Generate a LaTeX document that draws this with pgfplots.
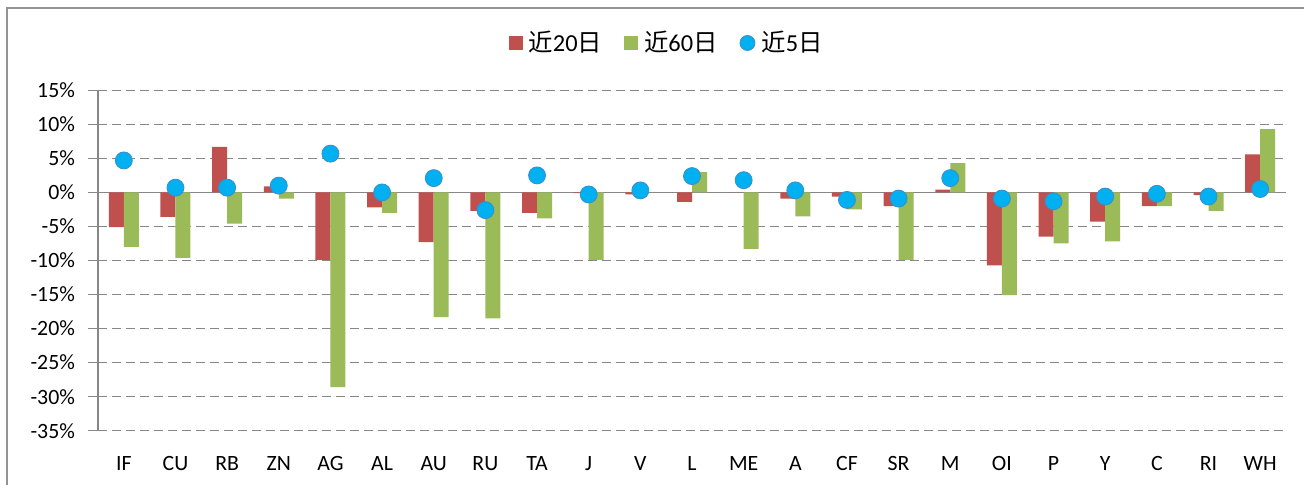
\documentclass[border=0pt]{standalone}
\usepackage{fontspec}
\setmainfont{Carlito}
\newfontfamily\cjk{Noto Sans CJK SC}
\usepackage{pgfplots}
\usepackage{pgfplotstable}
\pgfplotsset{compat=1.18}
\definecolor{r20}{HTML}{C0504D}
\definecolor{g60}{HTML}{9BBB59}
\definecolor{b5}{HTML}{00B0F0}
\definecolor{b5e}{HTML}{3C8DCB}
\definecolor{gridg}{HTML}{878787}

% x = category index, values in %
\pgfplotstableread{
x  r20   g60    d5
0  -5.1  -8.0   4.7
1  -3.6  -9.6   0.7
2   6.7  -4.6   0.7
3   0.9  -0.9   1.0
4  -9.9  -28.6  5.7
5  -2.2  -3.0   0.0
6  -7.3  -18.3  2.1
7  -2.7  -18.5 -2.6
8  -3.0  -3.8   2.5
9  -0.1  -9.9  -0.3
10 -0.3   0.0   0.3
11 -1.4   3.0   2.4
12  0.0  -8.3   1.8
13 -0.9  -3.5   0.3
14 -0.6  -2.5  -1.1
15 -2.0  -9.9  -0.9
16  0.4   4.3   2.1
17 -10.7 -15.1 -0.9
18 -6.5  -7.5  -1.3
19 -4.3  -7.2  -0.6
20 -2.0  -2.0  -0.2
21 -0.4  -2.7  -0.6
22  5.6   9.3   0.5
}\data

\begin{document}
\begin{tikzpicture}[x=1pt,y=1pt]
\useasboundingbox (0,0) rectangle (652,-242);
\begin{axis}[
  at={(49pt,-45.15pt)}, anchor=north west,
  scale only axis, width=594pt, height=170.2pt,
  xmin=-0.5, xmax=22.5, ymin=-35, ymax=15,
  axis y line*=left, axis x line*=bottom,
  x axis line style={draw=none},
  y axis line style={gridg, line width=0.65pt},
  xtick={0,...,22},
  xticklabels={IF,CU,RB,ZN,AG,AL,AU,RU,TA,J,V,L,ME,A,CF,SR,M,OI,P,Y,C,RI,WH},
  xtick style={draw=none},
  ytick={-35,-30,...,15},
  yticklabels={-35\%,-30\%,-25\%,-20\%,-15\%,-10\%,-5\%,0\%,5\%,10\%,15\%},
  tick align=outside, major tick length=5pt,
  ytick style={gridg, line width=0.65pt},
  ymajorgrids,
  major grid style={gridg, line width=0.7pt, dash pattern=on 4.5pt off 2.5pt},
  tick label style={font=\fontsize{10.9}{13}\selectfont, text=black},
  xticklabel style={anchor=base, yshift=-15pt},
  yticklabel style={anchor=east, xshift=-3pt},
  legend style={at={(0.4794,1.139)}, anchor=center, draw=none, fill=none,
    legend columns=-1, font=\fontsize{12.2}{14}\selectfont,
    /tikz/every odd column/.append style={column sep=1pt},
    /tikz/every even column/.append style={column sep=9pt}},
]
\draw[gridg, line width=0.75pt] (axis cs:-0.5,0) -- (axis cs:22.5,0);
\addplot[ybar, bar width=7.5pt, bar shift=-3.75pt, fill=r20, draw=none,
  legend image code/.code={\fill[r20] (0pt,-3.5pt) rectangle (7pt,3.5pt);}]
  table[x=x, y=r20] {\data};
\addplot[ybar, bar width=7.5pt, bar shift=3.75pt, fill=g60, draw=none,
  legend image code/.code={\fill[g60] (0pt,-3.5pt) rectangle (7pt,3.5pt);}]
  table[x=x, y=g60] {\data};
\addplot[only marks, mark=*, mark size=4.25pt,
  mark options={fill=b5, draw=b5e, line width=0.4pt},
  legend image code/.code={\filldraw[fill=b5, draw=b5e, line width=0.4pt] (3.75pt,0pt) circle (3.75pt);}]
  table[x=x, y=d5] {\data};
\legend{{\cjk 近}20{\cjk 日},{\cjk 近}60{\cjk 日},{\cjk 近}5{\cjk 日}}
\end{axis}
\draw[gridg!90, line width=0.7pt] (3.5,-700) -- (3.5,-4) -- (900,-4);
\end{tikzpicture}
\end{document}
